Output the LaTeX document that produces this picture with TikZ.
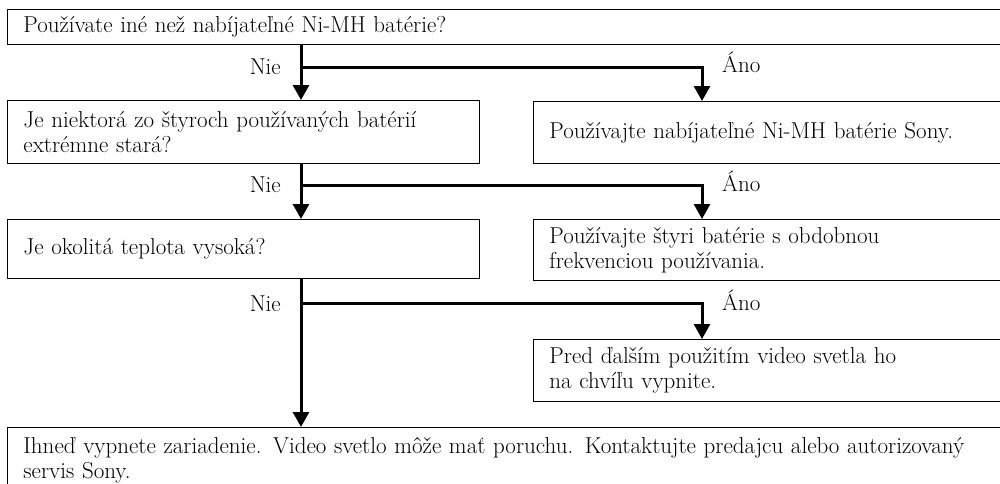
\documentclass[tikz,border=0pt]{standalone}
\usetikzlibrary{arrows.meta}
\begin{document}
\begin{tikzpicture}[x=1pt,y=-1pt,
  box/.style={draw, line width=0.9pt, anchor=north west, align=left,
    inner xsep=16pt, inner ysep=0pt,
    font=\fontsize{23}{25}\selectfont},
  flow/.style={line width=3pt},
  arr/.style={flow, -{Triangle[length=15pt,width=16pt]}},
  lbl/.style={font=\fontsize{23}{25}\selectfont, inner sep=0pt}]
\useasboundingbox (0,0) rectangle (1000,483);
\clip (0,0) rectangle (1000,483);
% boxes
\node[box, minimum width=1003pt, text width=971pt, minimum height=35pt] (q1) at (7,9)
  {Používate iné než nabíjateľné Ni-MH batérie?};
\node[box, minimum width=472pt, text width=440pt, minimum height=63pt] (q2) at (7,100)
  {Je niektorá zo štyroch používaných batérií\\extrémne stará?};
\node[box, minimum width=480pt, text width=448pt, minimum height=62pt] (a1) at (533,101)
  {Používajte nabíjateľné Ni-MH batérie Sony.};
\node[box, minimum width=472pt, text width=440pt, minimum height=59pt] (q3) at (7,219)
  {Je okolitá teplota vysoká?};
\node[box, minimum width=480pt, text width=448pt, minimum height=61pt] (a2) at (533,219)
  {Používajte štyri batérie s obdobnou\\frekvenciou používania.};
\node[box, minimum width=480pt, text width=448pt, minimum height=62pt] (a3) at (533,339)
  {Pred ďalším použitím video svetla ho\\na chvíľu vypnite.};
\node[box, minimum width=1003pt, text width=971pt, minimum height=66pt] (a4) at (7,427)
  {Ihneď vypnete zariadenie. Video svetlo môže mať poruchu. Kontaktujte predajcu alebo autorizovaný\\servis Sony.};
% guide coordinates
\coordinate (mx) at (301,0);
\coordinate (rx) at (702,0);
\coordinate (b1) at (301,67);
\coordinate (b2) at (301,185);
\coordinate (b3) at (301,303);
% main line
\draw[arr] (q1.south -| mx) -- (q2.north -| mx);
\draw[arr] (q2.south -| mx) -- (q3.north -| mx);
\draw[arr] (q3.south -| mx) -- (a4.north -| mx);
% yes branches
\draw[arr] (b1) -| (a1.north -| rx);
\draw[arr] (b2) -| (a2.north -| rx);
\draw[arr] (b3) -| (a3.north -| rx);
% labels
\node[lbl, anchor=base east] (n1) at (281,74) {Nie};
\node[lbl, anchor=base east] (n2) at (281,192) {Nie};
\node[lbl, anchor=base east] (n3) at (281,311) {Nie};
\node[lbl, anchor=base west] (y1) at (722,72) {Áno};
\node[lbl, anchor=base west] (y2) at (722,191) {Áno};
\node[lbl, anchor=base west] (y3) at (722,310) {Áno};
\end{tikzpicture}
\end{document}
